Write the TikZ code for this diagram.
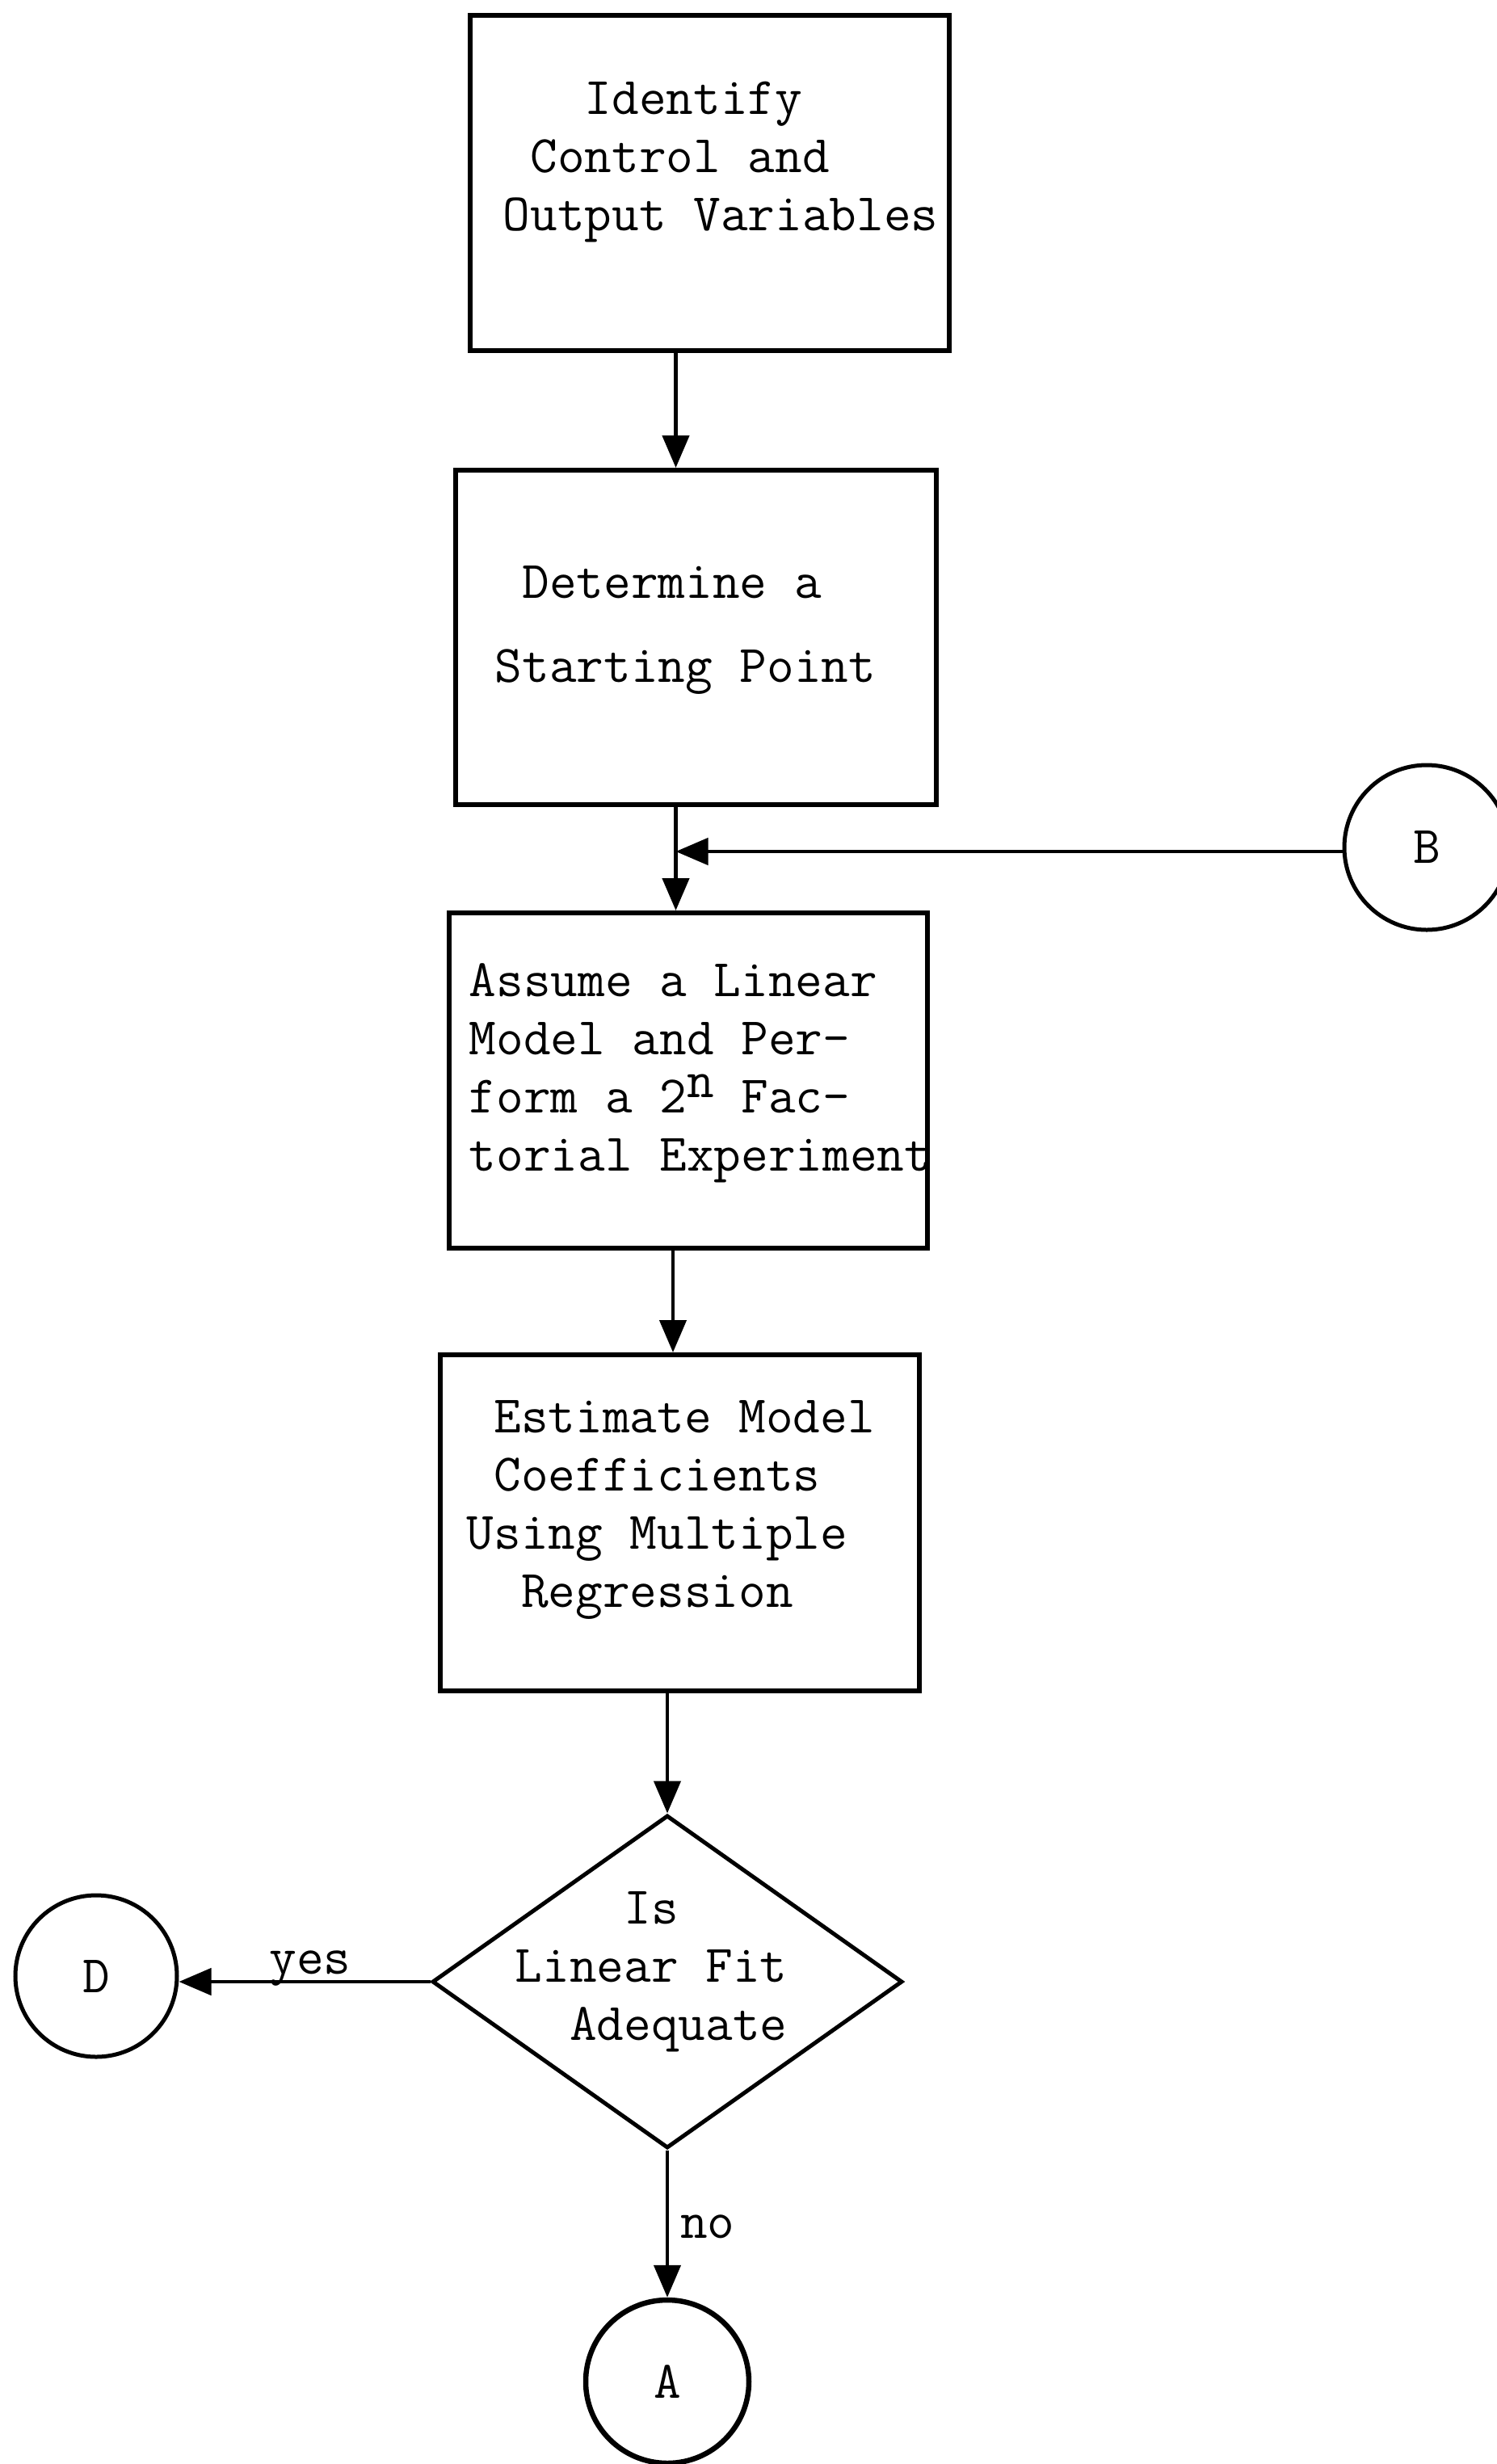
\documentclass[tikz,border=0pt]{standalone}
\usepackage{tikz}
\usetikzlibrary{shapes.geometric,arrows.meta}
\newcommand{\typed}{\ttfamily\fontsize{18.6pt}{20.5pt}\selectfont}

\begin{document}
\begin{tikzpicture}[
		procbox/.style={draw, line width=0.6mm, rectangle, minimum width=5.93cm, minimum height=4.15cm, inner sep=0pt},
		decbox/.style={draw, line width=0.5mm, diamond, minimum width=5.82cm, minimum height=4.12cm, inner sep=0pt},
		conn/.style={draw, line width=0.5mm, circle, minimum size=2.02cm, inner sep=0pt, font=\typed},
		txt/.style={inner sep=0pt, align=left, anchor=west, font=\typed},
		flow/.style={line width=0.45mm, -{Triangle[length=4mm, width=3.3mm]}}
	]
			%%%%% START %%%%%
			
			\useasboundingbox (0, 0) rectangle (18.52, -30.50);
			\fill[white] (0, 0) rectangle (18.52, -30.50);
			
			\node[procbox] (ident) at (8.785, -2.265) {};
			\node[txt] (identtxt) at (6.22, -2.01) {\ \ \ Identify\\ \ Control and\\Output Variables};
			
			\node[procbox, minimum width=5.95cm, minimum height=4.14cm] (start) at (8.615, -7.89) {};
			\node[txt] (starttxt) at (6.12, -7.80) {\ Determine a\\[0.31cm]Starting Point};
			
			\node[procbox, minimum width=5.92cm] (assume) at (8.52, -13.375) {};
			\node[txt] (assumetxt) at (5.80, -13.28) {Assume a Linear\\Model and Per-\\form a 2\raisebox{0.28em}{n} Fac-\\torial Experiment};
			
			\node[procbox, minimum height=4.16cm] (fit) at (8.415, -18.85) {};
			\node[txt] (fittxt) at (5.77, -18.69) {\ Estimate Model\\ \ Coefficients\\Using Multiple\\ \ \ Regression};
			
			\node[decbox] (decide) at (8.26, -24.53) {};
			\node[txt] (decidetxt) at (6.37, -24.41) {\ \ \ \ Is\\Linear Fit\\ \ \ Adequate};
			
			\node[conn, minimum size=2.04cm] (B) at (17.66, -10.49) {B};
			\node[conn, minimum size=2.0cm] (D) at (1.19, -24.46) {D};
			\node[conn, line width=0.65mm] (A) at (8.26, -29.48) {A};
			
			% main line down the page
			\draw[flow] ([xshift=-4.2mm]ident.south) -- ([xshift=-4.2mm]ident.south |- start.north);
			\draw[flow] ([xshift=-2.5mm]start.south) -- ([xshift=-2.5mm]start.south |- assume.north);
			\draw[flow] ([xshift=-1.9mm]assume.south) -- ([xshift=-1.9mm]assume.south |- fit.north);
			\draw[flow] (fit.south -| decide.north) -- (decide.north);
			
			% return from B joins above the model box
			\coordinate (merge) at ([xshift=-2.5mm, yshift=-0.5mm]start.south |- B.west);
			\draw[flow] (B.west |- merge) -- (merge);
			
			% branches of the test
			\draw[flow] (decide.west) -- node[above, inner sep=0pt, xshift=0.7mm, yshift=-0.8mm, font=\typed] (yeslbl) {yes} (decide.west -| D.east);
			\draw[flow] (decide.south) -- node[right, inner sep=1.4mm, yshift=-0.4mm, font=\typed] (nolbl) {no} (decide.south |- A.north);
			
			%%%%% END %%%%%
\end{tikzpicture}
\end{document}
